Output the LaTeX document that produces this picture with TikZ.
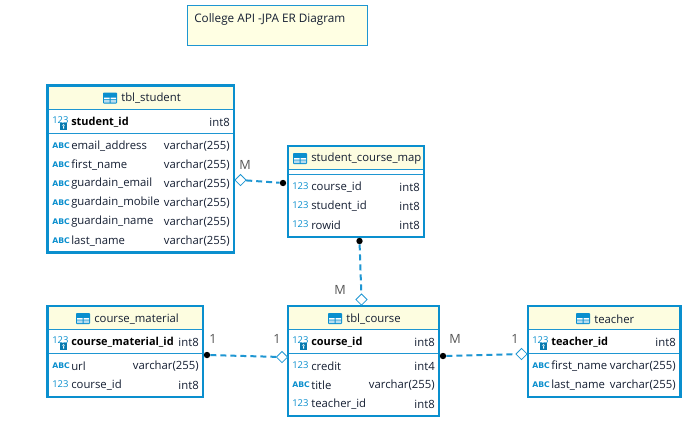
\documentclass[tikz,border=0pt]{standalone}
\usepackage{fontspec}
\setmainfont{Open Sans}
\newfontfamily\iconbold{DejaVu Sans}
\usetikzlibrary{fit,shapes.geometric}
\definecolor{erblue}{HTML}{0A8FCE}
\definecolor{erline}{HTML}{1E96D2}
\definecolor{erhead}{HTML}{FDFDE0}
\definecolor{ernote}{HTML}{FFFFE3}
\definecolor{erlabel}{HTML}{555555}
\definecolor{ertext}{HTML}{141E32}
\tikzset{
  tbl/.style={draw=erblue,line width=1.9pt,inner sep=0pt,fill=none},
  headfill/.style={fill=erhead,draw=none},
  divider/.style={draw=erline,line width=.75pt},
  coltext/.style={anchor=west,inner sep=0pt,text=ertext,font=\fontsize{8.5}{10}\selectfont},
  pktext/.style={coltext,font=\fontsize{8.2}{10}\selectfont\bfseries,text=black},
  coltype/.style={anchor=east,inner sep=0pt,text=ertext,font=\fontsize{8.5}{10}\selectfont},
  titletext/.style={coltext},
  numicon/.style={anchor=west,inner sep=0pt,text=erblue,font=\fontsize{7.1}{10}\selectfont},
  abcicon/.style={anchor=west,inner sep=0pt,text=erblue,font=\iconbold\fontsize{5.8}{7}\selectfont\bfseries},
  fkdot/.style={circle,fill=black,draw=none,minimum size=4.8pt,inner sep=0pt},
  fkdia/.style={diamond,draw=erline,fill=white,line width=.6pt,minimum width=8.6pt,minimum height=8.6pt,inner sep=0pt},
  rel/.style={draw=erline,line width=1.5pt,dash pattern=on 4.5pt off 3pt},
  card/.style={inner sep=0pt,text=erlabel,font=\fontsize{9.5}{10}\selectfont},
  notebox/.style={draw=erline,line width=.75pt,fill=ernote,inner sep=0pt},
  notelabel/.style={coltext,font=\fontsize{8.8}{10}\selectfont},
}
\newcommand{\ertable}[9]{%
  \fill[white] (#2,#3) rectangle (#4,#5);
  \fill[headfill] (#2,#3) rectangle (#4,#6);
  \draw[divider] (#2,#6) -- (#4,#6);
  \draw[divider] (#2,#7) -- (#4,#7);
  \node[tbl,fit={(#2,#3)(#4,#5)}] (#1) {};
  \node[titletext] (#1title) at (#8,#3+13) {#9};
  \begin{scope}[shift={(#8-18,#3+12.5)}]
    \fill[erblue,rounded corners=.6pt] (0,-5.5) rectangle (14,5.5);
    \fill[white] (1,-.5) rectangle (6.5,1.2) (7.5,-.5) rectangle (13,1.2);
    \fill[white!70!erblue] (1,1.8) rectangle (6.5,4.5) (7.5,1.8) rectangle (13,4.5);
  \end{scope}
}
\newcommand{\ernum}[6]{%
  \node[numicon] (#1i) at (#3-19,#2-.5) {123};
  \node[coltext] (#1) at (#3,#2) {#4};
  \node[coltype] (#1t) at (#6,#2) {#5};
}
\newcommand{\erabc}[6]{%
  \node[abcicon] (#1i) at (#3-19,#2-.5) {ABC};
  \node[coltext] (#1) at (#3,#2) {#4};
  \node[coltype] (#1t) at (#6,#2) {#5};
}
\newcommand{\erpk}[6]{%
  \node[numicon] (#1i) at (#3-19,#2-1.5) {123};
  \fill[erblue!85!black] (#3-11,#2+1) rectangle (#3-4,#2+8);
  \fill[white] (#3-7.5,#2+3.4) circle (1.2) (#3-8,#2+3.4) rectangle (#3-7,#2+6.5);
  \node[pktext] (#1) at (#3,#2) {#4};
  \node[coltype] (#1t) at (#6,#2) {#5};
}
\begin{document}
\begin{tikzpicture}[x=.75pt,y=-.75pt]
\useasboundingbox (0,0) rectangle (691,437);
\fill[white] (0,0) rectangle (691,437);

\node[notebox,fit={(187.5,5)(367,45)}] (note) {};
\node[notelabel] (notetext) at (194,19) {College API -JPA ER Diagram};

\ertable{student}{47.5}{85.5}{234}{252.5}{109}{133}{121}{tbl\_student}
\erpk{sid}{122}{71}{student\_id}{int8}{230}
\erabc{semail}{146}{71}{email\_address}{varchar(255)}{230}
\erabc{sfirst}{165}{71}{first\_name}{varchar(255)}{230}
\erabc{sgemail}{184}{71}{guardain\_email}{varchar(255)}{230}
\erabc{sgmob}{203}{71}{guardain\_mobile}{varchar(255)}{230}
\erabc{sgname}{222}{71}{guardain\_name}{varchar(255)}{230}
\erabc{slast}{241}{71}{last\_name}{varchar(255)}{230}

\ertable{map}{288}{146}{424}{237}{169.5}{174}{311}{student\_course\_map}
\ernum{mcourse}{187}{311}{course\_id}{int8}{420}
\ernum{mstudent}{206}{311}{student\_id}{int8}{420}
\ernum{mrow}{225}{311}{rowid}{int8}{420}

\ertable{material}{47.5}{306}{203}{397}{329.5}{353}{94}{course\_material}
\erpk{cmid}{342}{71}{course\_material\_id}{int8}{199}
\erabc{cmurl}{366}{71}{url}{varchar(255)}{199}
\ernum{cmcourse}{385}{71}{course\_id}{int8}{199}

\ertable{course}{288}{306}{439}{416}{329.5}{353}{346}{tbl\_course}
\erpk{cid}{342}{311}{course\_id}{int8}{435}
\ernum{ccredit}{366}{311}{credit}{int4}{435}
\erabc{ctitle}{385}{311}{title}{varchar(255)}{435}
\ernum{cteacher}{404}{311}{teacher\_id}{int8}{435}

\ertable{teacher}{528}{306}{680.5}{397}{329.5}{353}{594}{teacher}
\erpk{tid}{342}{551}{teacher\_id}{int8}{676}
\erabc{tfirst}{366}{551}{first\_name}{varchar(255)}{676}
\erabc{tlast}{385}{551}{last\_name}{varchar(255)}{676}

\node[fkdia] (d1) at (240.5,180) {};
\node[fkdot] (p1) at (283,183) {};
\node[fkdot] (p2) at (359.5,241) {};
\node[fkdia] (d2) at (361.5,299.5) {};
\node[fkdot] (p3) at (207,355) {};
\node[fkdia] (d3) at (282,357) {};
\node[fkdot] (p4) at (443,356) {};
\node[fkdia] (d4) at (521.5,354) {};

\draw[rel] (d1) -- (p1);
\draw[rel] (p2) -- (d2);
\draw[rel] (p3) -- (d3);
\draw[rel] (p4) -- (d4);

\node[card] (c1) at (245,164.5) {M};
\node[card] (c2) at (340,289.5) {M};
\node[card] (c3) at (213,339) {1};
\node[card] (c4) at (277,339) {1};
\node[card] (c5) at (455,339) {M};
\node[card] (c6) at (515,339) {1};
\end{tikzpicture}
\end{document}
